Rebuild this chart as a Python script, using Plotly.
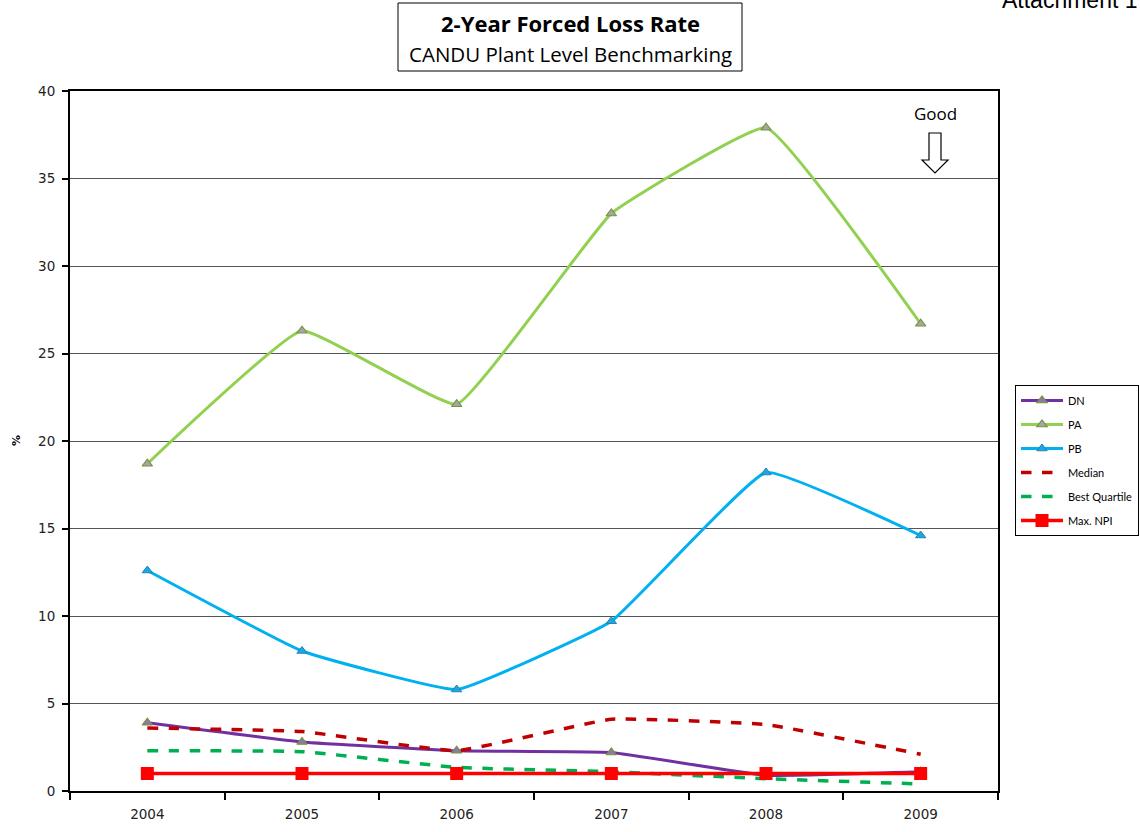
import plotly.graph_objects as go

years = ["2004", "2005", "2006", "2007", "2008", "2009"]
dn = [3.9, 2.8, 2.3, 2.2, 0.9, 1.1]
pa = [18.7, 26.3, 22.1, 33.0, 37.9, 26.7]
pb = [12.6, 8.0, 5.8, 9.7, 18.2, 14.6]
median = [3.6, 3.4, 2.3, 4.1, 3.8, 2.1]
best_quartile = [2.3, 2.25, 1.35, 1.1, 0.7, 0.4]
max_npi = [1.0, 1.0, 1.0, 1.0, 1.0, 1.0]

W, H = 1140, 832
L, R, T, B = 70, 998, 91, 791
SM = 0.3


def px(x):
    return (x - L) / (R - L)


def py(y):
    return (B - y) / (B - T)


fig = go.Figure()

fig.add_trace(go.Scatter(
    x=years, y=dn, name="DN", mode="lines+markers", legendgroup="a",
    line=dict(color="#7030A0", width=3, shape="spline", smoothing=SM),
    marker=dict(symbol="triangle-up", size=9, color="#8C7AA8",
                line=dict(color="#77933C", width=1.2))))
fig.add_trace(go.Scatter(
    x=years, y=pa, name="PA", mode="lines+markers", legendgroup="b",
    line=dict(color="#92D050", width=3, shape="spline", smoothing=SM),
    marker=dict(symbol="triangle-up", size=9, color="#A6A6A6",
                line=dict(color="#77933C", width=1.2))))
fig.add_trace(go.Scatter(
    x=years, y=pb, name="PB", mode="lines+markers", legendgroup="c",
    line=dict(color="#00B0F0", width=3, shape="spline", smoothing=SM),
    marker=dict(symbol="triangle-up", size=9, color="#1FA6DB",
                line=dict(color="#1F86B8", width=1))))
fig.add_trace(go.Scatter(
    x=years, y=median, name="Median", mode="lines", legendgroup="d",
    line=dict(color="#C00000", width=3.5, dash="dash", shape="spline", smoothing=SM)))
fig.add_trace(go.Scatter(
    x=years, y=best_quartile, name="Best Quartile", mode="lines", legendgroup="e",
    line=dict(color="#00B050", width=3.5, dash="dash", shape="spline", smoothing=SM)))
fig.add_trace(go.Scatter(
    x=years, y=max_npi, name="Max. NPI", mode="lines+markers", legendgroup="f",
    line=dict(color="#FF0000", width=3.5),
    marker=dict(symbol="square", size=13, color="#FF0000")))

# Title box
fig.add_shape(type="rect", xref="paper", yref="paper",
              x0=px(398), x1=px(742), y0=py(71), y1=py(3),
              line=dict(color="black", width=1), fillcolor="white", layer="above")

annots = [
    dict(text="<b>2-Year Forced Loss Rate</b>", x=px(570), y=py(23),
         font=dict(family="Open Sans", size=22, color="black")),
    dict(text="CANDU Plant Level Benchmarking", x=px(570), y=py(54),
         font=dict(family="Open Sans", size=20.5, color="black")),
    dict(text="Attachment 1", x=px(1000), y=py(0), xanchor="left",
         font=dict(family="Liberation Sans", size=23, color="black")),
    dict(text="Good", x=px(935), y=py(113),
         font=dict(family="Open Sans", size=17, color="black")),
    dict(text="<b>%</b>", x=px(16), y=py(441), textangle=-90,
         font=dict(family="DejaVu Sans", size=11, color="black")),
]
for a in annots:
    a.setdefault("xanchor", "center")
    fig.add_annotation(xref="paper", yref="paper", showarrow=False,
                       yanchor="middle", **a)

# Hollow down arrow
pts = [(929, 133), (941, 133), (941, 160), (948, 160), (935, 173),
       (922, 160), (929, 160)]
path = "M " + " L ".join(f"{px(x)},{py(y)}" for x, y in pts) + " Z"
fig.add_shape(type="path", xref="paper", yref="paper", path=path,
              line=dict(color="black", width=1.2), fillcolor="white")

fig.update_layout(
    width=W, height=H,
    margin=dict(l=L, r=W - R, t=T, b=H - B, autoexpand=False),
    paper_bgcolor="white", plot_bgcolor="white",
    font=dict(family="DejaVu Sans", size=12, color="black"),
    legend=dict(x=px(1015), y=py(385), xanchor="left", yanchor="top",
                bordercolor="black", borderwidth=1, bgcolor="white",
                font=dict(family="Lato", size=11, color="black"),
                tracegroupgap=5, traceorder="grouped", itemwidth=42),
    xaxis=dict(type="category", range=[-0.5, 5.5], showgrid=False,
               showline=True, linecolor="black", linewidth=2, mirror=True,
               ticks="outside", ticklen=7, tickwidth=1.5, tickcolor="black",
               tickson="boundaries", ticklabelstandoff=10,
               tickfont=dict(size=13.5, color="#222")),
    yaxis=dict(range=[0, 40], dtick=5, showgrid=True, gridcolor="#555",
               gridwidth=1, showline=True, linecolor="black", linewidth=2,
               mirror=True, ticks="outside", ticklen=6, tickwidth=1.5,
               tickcolor="black", zeroline=False, ticklabelstandoff=4,
               tickfont=dict(size=13.5, color="#222")),
)

fig.write_html("out.html", config={"displayModeBar": False},
               post_script="document.body.style.margin='0';document.body.style.overflow='hidden';")
